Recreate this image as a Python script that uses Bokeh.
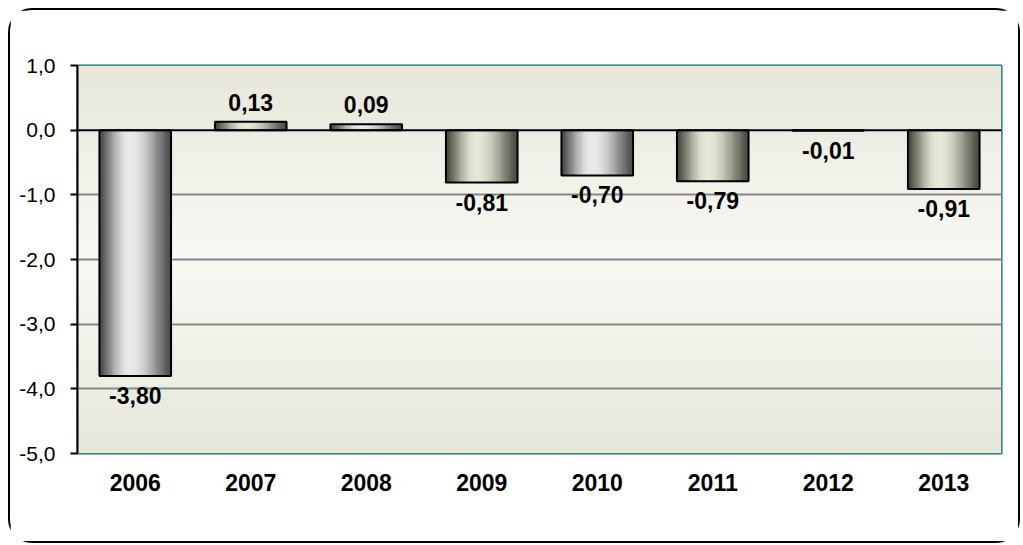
import numpy as np
from bokeh.plotting import figure
from bokeh.models import FixedTicker, Span
from bokeh.core.properties import value
from bokeh.embed import file_html
from bokeh.resources import INLINE

years = ["2006", "2007", "2008", "2009", "2010", "2011", "2012", "2013"]
values = [-3.80, 0.13, 0.09, -0.81, -0.70, -0.79, -0.01, -0.91]
y_ticks = [1.0, 0.0, -1.0, -2.0, -3.0, -4.0, -5.0]
y_tick_labels = ["1,0", "0,0", "-1,0", "-2,0", "-3,0", "-4,0", "-5,0"]
value_labels = ["-3,80", "0,13", "0,09", "-0,81", "-0,70", "-0,79", "-0,01", "-0,91"]

# style: tint per bar (neutral / olive)
tints = ["n", "o", "n", "o", "n", "o", "o", "o"]

FONT = "Liberation Sans"
xs = list(range(len(years)))

p = figure(width=1012, height=535, x_range=(-0.5, 7.5), y_range=(-5.0, 1.0),
           output_backend="svg", toolbar_location=None,
           min_border_left=67, min_border_right=21, min_border_top=55, min_border_bottom=92)
p.styles = {"border": "2px solid black", "border-radius": "24px", "margin-left": "8px", "margin-top": "8px"}
p.background_fill_color = "white"
p.border_fill_color = "white"
p.outline_line_color = "#006b6b"
p.outline_line_width = 2


def rgba_image(cols):
    cols = np.asarray(cols)
    h, w = cols.shape[0], cols.shape[1]
    img = np.zeros((h, w), dtype=np.uint32)
    view = img.view(dtype=np.uint8).reshape((h, w, 4))
    view[:, :, 0] = cols[:, :, 0].astype(np.uint8)
    view[:, :, 1] = cols[:, :, 1].astype(np.uint8)
    view[:, :, 2] = cols[:, :, 2].astype(np.uint8)
    view[:, :, 3] = 255
    return img


# background vertical gradient
N = 200
tv = np.linspace(0, 1, N)
edge = np.array([231, 232, 218], dtype=float)
mid = np.array([248, 249, 244], dtype=float)
wgt = 1 - np.abs(tv - 0.5) * 2
bg = edge[None, :] + (mid - edge)[None, :] * wgt[:, None]
bg_img = rgba_image(bg[:, None, :])
p.image_rgba(image=[bg_img], x=-0.5, y=-5.0, dw=8, dh=6, level="image")

# grid
p.xgrid.visible = False
p.ygrid.ticker = FixedTicker(ticks=[-1, -2, -3, -4])
p.ygrid.grid_line_color = "#878787"
p.ygrid.grid_line_width = 2

# bars with horizontal gradient
bw = 0.62
NS = 80
images, bx, by, bdw, bdh = [], [], [], [], []
for i, v in enumerate(values):
    if tints[i] == "o":
        dark = np.array([70, 70, 60.0]); light = np.array([232, 232, 216.0])
    else:
        dark = np.array([72, 72, 72.0]); light = np.array([234, 234, 234.0])
    row = []
    for k in range(NS):
        f = (k + 0.5) / NS
        peak = 0.42
        s = f / peak if f <= peak else (1 - f) / (1 - peak)
        s = np.sin(s * np.pi / 2) ** 1.3
        row.append(dark + (light - dark) * s)
    images.append(rgba_image(np.array(row)[None, :, :]))
    bx.append(i - bw / 2)
    by.append(min(v, 0))
    bdw.append(bw)
    bdh.append(abs(v))
p.image_rgba(image=images, x=bx, y=by, dw=bdw, dh=bdh)
p.vbar(x=xs, width=bw, top=values, bottom=0, fill_alpha=0,
       line_color="black", line_width=2)

p.add_layout(Span(location=0, dimension="width", line_color="black", line_width=2))

# value labels
pos = [i for i, v in enumerate(values) if v >= 0]
neg = [i for i, v in enumerate(values) if v < 0]
p.text(x=[xs[i] for i in pos], y=[values[i] for i in pos], text=[value_labels[i] for i in pos],
       text_align="center", text_baseline="bottom", y_offset=-11,
       text_font=value(FONT), text_font_style="bold", text_font_size="23px", text_color="black")
p.text(x=[xs[i] for i in neg], y=[values[i] for i in neg], text=[value_labels[i] for i in neg],
       text_align="center", text_baseline="top", y_offset=11,
       text_font=value(FONT), text_font_style="bold", text_font_size="23px", text_color="black")

# axes
p.xaxis.ticker = FixedTicker(ticks=xs)
p.xaxis.major_label_overrides = {i: y for i, y in enumerate(years)}
p.xaxis.axis_line_color = None
p.xaxis.major_tick_line_color = None
p.xaxis.minor_tick_line_color = None
p.xaxis.major_label_text_font = FONT
p.xaxis.major_label_text_font_style = "bold"
p.xaxis.major_label_text_font_size = "23px"
p.xaxis.major_label_text_color = "black"
p.xaxis.major_label_standoff = 14

p.yaxis.ticker = FixedTicker(ticks=y_ticks)
p.yaxis.major_label_overrides = {t: s for t, s in zip(y_ticks, y_tick_labels)}
p.yaxis.axis_line_color = "black"
p.yaxis.axis_line_width = 2
p.yaxis.major_tick_line_color = "black"
p.yaxis.major_tick_line_width = 2
p.yaxis.major_tick_out = 7
p.yaxis.major_tick_in = 0
p.yaxis.minor_tick_line_color = None
p.yaxis.major_label_text_font = FONT
p.yaxis.major_label_text_font_size = "21px"
p.yaxis.major_label_text_color = "black"
p.yaxis.major_label_standoff = 15

open("out.html", "w").write(file_html(p, INLINE))
